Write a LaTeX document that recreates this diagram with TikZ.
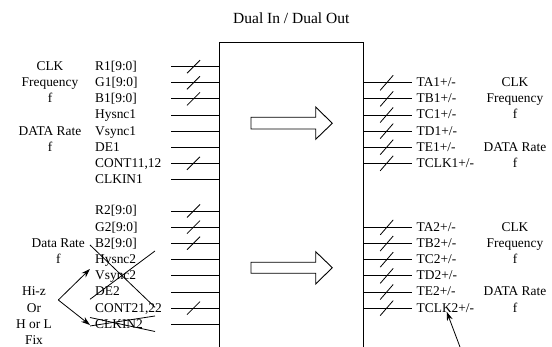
\documentclass[tikz,border=0pt]{standalone}
\usepackage{fontspec}
\setmainfont{Liberation Serif}
\usetikzlibrary{arrows.meta}
\newcommand\lpin[3]{%
  \coordinate (lo#1) at (171,#2); \coordinate (li#1) at (219,#2);
  \draw[pin] (lo#1) -- (li#1);
  \node[sig,anchor=base west] (lt#1) at (95,{#2+4}) {#3};}
\newcommand\rpin[3]{%
  \coordinate (ri#1) at (363.5,#2); \coordinate (ro#1) at (411.7,#2);
  \draw[pin] (ri#1) -- (ro#1);
  \draw[pin] (380.2,{#2+7.5}) -- (393.2,{#2-7.5});
  \node[sig,anchor=base west] (rt#1) at (416.5,{#2+4}) {#3};}
\newcommand\lbus[1]{\draw[pin] (187,{#1+6.5}) -- (200,{#1-6.5});}
\begin{document}
\begin{tikzpicture}[x=1pt,y=-1pt,
  pin/.style={line width=0.8pt},
  sig/.style={font=\fontsize{13.4}{15}\selectfont, inner sep=0pt},
  big/.style={line width=0.9pt, fill=white, line join=miter},
  cross/.style={line width=0.8pt},
  harrow/.style={line width=0.8pt, -{Stealth[length=9pt,width=6pt]}}]
\useasboundingbox (0,0) rectangle (552,347);
% title
\node[font=\fontsize{15.5}{17}\selectfont, inner sep=0pt, anchor=base] (title) at (291.3,24) {Dual In / Dual Out};
% box
\draw[line width=0.9pt] (219,347) -- (219,42.7) -- (363.5,42.7) -- (363.5,347);
% block arrows
\draw[big] (251,117.3) -- (315.7,117.3) -- (315.7,107) -- (332.3,123.3) -- (315.7,139.3) -- (315.7,129) -- (251,129) -- cycle;
\draw[big] (251,262.3) -- (315.7,262.3) -- (315.7,251.7) -- (332.3,267.7) -- (315.7,284) -- (315.7,273.3) -- (251,273.3) -- cycle;
% left upper pins
\lpin{a1}{66.7}{R1[9:0]} \lbus{66.7}
\lpin{a2}{82.8}{G1[9:0]} \lbus{82.8}
\lpin{a3}{98.9}{B1[9:0]} \lbus{98.9}
\lpin{a4}{115.0}{Hysnc1}
\lpin{a5}{131.1}{Vsync1}
\lpin{a6}{147.2}{DE1}
\lpin{a7}{163.3}{CONT11,12} \lbus{163.3}
\lpin{a8}{179.4}{CLKIN1}
% left lower pins
\lpin{b1}{211.0}{R2[9:0]} \lbus{211.0}
\lpin{b2}{227.1}{G2[9:0]} \lbus{227.1}
\lpin{b3}{243.2}{B2[9:0]} \lbus{243.2}
\lpin{b4}{259.6}{Hysnc2}
\lpin{b5}{275.8}{Vsync2}
\lpin{b6}{292.0}{DE2}
\lpin{b7}{308.1}{CONT21,22} \lbus{308.1}
\lpin{b8}{324.3}{CLKIN2}
% right upper pins
\rpin{c1}{82.8}{TA1+/-}
\rpin{c2}{98.9}{TB1+/-}
\rpin{c3}{115.0}{TC1+/-}
\rpin{c4}{131.1}{TD1+/-}
\rpin{c5}{147.2}{TE1+/-}
\rpin{c6}{163.3}{TCLK1+/-}
% right lower pins
\rpin{d1}{227.4}{TA2+/-}
\rpin{d2}{243.5}{TB2+/-}
\rpin{d3}{259.7}{TC2+/-}
\rpin{d4}{275.9}{TD2+/-}
\rpin{d5}{292.0}{TE2+/-}
\rpin{d6}{308.1}{TCLK2+/-}
% left side notes
\node[sig,anchor=base] (n1) at (50,70.7) {CLK};
\node[sig,anchor=base] (n2) at (50,86.8) {Frequency};
\node[sig,anchor=base] (n3) at (50,102.9) {f};
\node[sig,anchor=base] (n4) at (50,135.1) {DATA Rate};
\node[sig,anchor=base] (n5) at (50,151.2) {f};
\node[sig,anchor=base] (n6) at (58.3,247.2) {Data Rate};
\node[sig,anchor=base] (n7) at (58.3,263.6) {f};
\node[sig,anchor=base] (n8) at (34,296.0) {Hi-z};
\node[sig,anchor=base] (n9) at (34,312.1) {Or};
\node[sig,anchor=base] (n10) at (34,328.3) {H or L};
\node[sig,anchor=base] (n11) at (34,344.5) {Fix};
% right side notes
\node[sig,anchor=base] (m1) at (515,86.8) {CLK};
\node[sig,anchor=base] (m2) at (515,102.9) {Frequency};
\node[sig,anchor=base] (m3) at (515,119.0) {f};
\node[sig,anchor=base] (m4) at (515,151.2) {DATA Rate};
\node[sig,anchor=base] (m5) at (515,167.3) {f};
\node[sig,anchor=base] (m6) at (515,231.4) {CLK};
\node[sig,anchor=base] (m7) at (515,247.5) {Frequency};
\node[sig,anchor=base] (m8) at (515,263.7) {f};
\node[sig,anchor=base] (m9) at (515,296.0) {DATA Rate};
\node[sig,anchor=base] (m10) at (515,312.1) {f};
% cross-outs
\coordinate (x1a) at (90,245); \coordinate (x1b) at (155,307.3);
\coordinate (x2a) at (90,299.3); \coordinate (x2b) at (155,251);
\draw[cross] (x1a) -- (x1b);
\draw[cross] (x2a) -- (x2b);
\coordinate (x3a) at (90,317.5); \coordinate (x3b) at (155,331.5);
\coordinate (x4a) at (90,326); \coordinate (x4b) at (155,316);
\draw[cross] (x3a) -- (x3b);
\draw[cross] (x4a) -- (x4b);
% Hi-z arrows
\coordinate (hs) at (58.3,300);
\coordinate (ht1) at (90,269); \coordinate (ht2) at (90,325);
\draw[harrow] (hs) -- (ht1);
\draw[harrow] (hs) -- (ht2);
% TCLK2 arrow
\coordinate (tcs) at (460,347);
\coordinate (tce) at (446.7,311.7);
\draw[harrow] (tcs) -- (tce);
\end{tikzpicture}
\end{document}
